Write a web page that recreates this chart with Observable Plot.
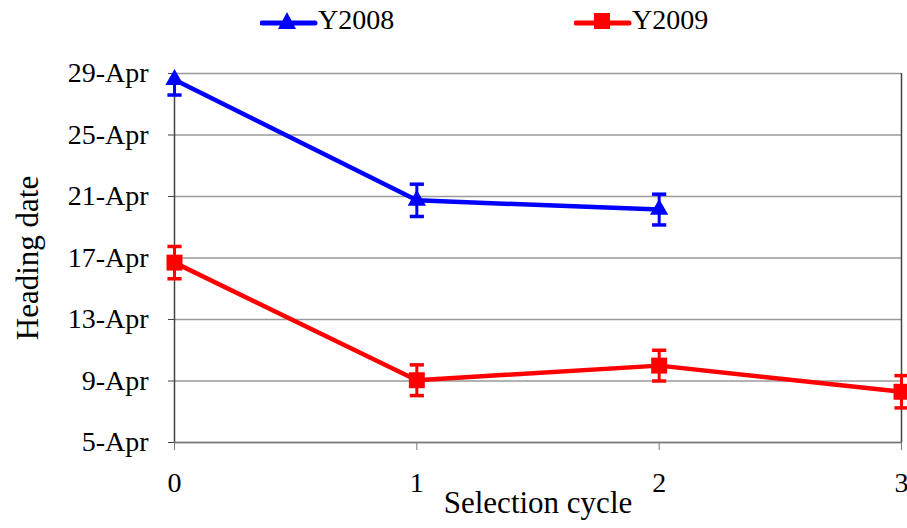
<!DOCTYPE html>
<html><head><meta charset="utf-8">
<script src="https://cdn.jsdelivr.net/npm/d3@7"></script>
<script src="https://cdn.jsdelivr.net/npm/@observablehq/plot@0.6"></script>
<style>
body{margin:0;background:#fff;font-family:"Liberation Serif",serif;}
#wrap{position:relative;width:907px;height:528px;overflow:hidden;}
#legend{position:relative;height:40px;width:907px;}
#legend .item{position:absolute;top:0;height:40px;display:flex;align-items:center;font-family:"Liberation Serif",serif;font-size:28px;color:#000;}
#chart svg{display:block;}
</style></head><body>
<div id="wrap"><div id="legend"></div><div id="chart"></div></div>
<script>
// ---- data ----
const series = ["Y2008", "Y2009"];
const colors = ["#0000ff", "#ff0000"];
const cycles2008 = [0, 1, 2];
const mean2008 = [28.6, 20.75, 20.15];
const err2008 = [1.0, 1.05, 1.0];
const cycles2009 = [0, 1, 2, 3];
const mean2009 = [16.7, 9.05, 10.0, 8.3];
const err2009 = [1.05, 1.0, 1.0, 1.05];
const yTicks = [5, 9, 13, 17, 21, 25, 29];
const yTickLabels = ["5-Apr", "9-Apr", "13-Apr", "17-Apr", "21-Apr", "25-Apr", "29-Apr"];
const xTicks = [0, 1, 2, 3];
const yDomain = [5, 29];

const rows = [
  ...cycles2008.map((c, i) => ({series: "Y2008", cycle: c, mean: mean2008[i], err: err2008[i]})),
  ...cycles2009.map((c, i) => ({series: "Y2009", cycle: c, mean: mean2009[i], err: err2009[i]}))
];
// error bars are cut at the axis limits, as in the original chart
const caps = rows.flatMap(d => [{...d, v: d.mean + d.err}, {...d, v: d.mean - d.err}])
  .filter(d => d.v >= yDomain[0] && d.v <= yDomain[1]);
const capSymbol = {draw(ctx, size) { const w = Math.sqrt(size); ctx.moveTo(-w / 2, 0); ctx.lineTo(w / 2, 0); }};
const serif = "'Liberation Serif', serif";

const chart = Plot.plot({
  width: 907,
  height: 488,
  marginTop: 33,
  marginBottom: 86,
  marginLeft: 174,
  marginRight: 6,
  style: {fontFamily: serif, fontSize: "28px", color: "#000", background: "#fff", overflow: "visible"},
  x: {domain: [0, 3]},
  y: {domain: yDomain},
  color: {domain: series, range: colors},
  marks: [
    Plot.gridY(yTicks, {stroke: "#9a9a9a", strokeOpacity: 1, strokeWidth: 1.5}),
    Plot.ruleX([0], {stroke: "#444", strokeWidth: 1.5}),
    Plot.ruleX([3], {stroke: "#444", strokeWidth: 1.5}),
    Plot.ruleY([5], {stroke: "#777", strokeWidth: 1.5}),
    Plot.axisY({ticks: yTicks, tickFormat: d => yTickLabels[yTicks.indexOf(d)], tickSize: 6, tickPadding: 20, stroke: "#444", label: null}),
    Plot.axisX({ticks: xTicks, tickFormat: d => String(d), tickSize: 8, tickPadding: 22, stroke: "#777", label: null}),
    Plot.text(["Heading date"], {frameAnchor: "left", textAnchor: "middle", lineAnchor: "middle", rotate: -90, dx: -146, fontSize: 31, fill: "#000"}),
    Plot.text(["Selection cycle"], {frameAnchor: "bottom", dy: 70, fontSize: 31, fill: "#000"}),
    Plot.line(rows, {x: "cycle", y: "mean", z: "series", stroke: "series", strokeWidth: 4.5}),
    Plot.ruleX(rows, {x: "cycle", y1: d => Math.max(yDomain[0], d.mean - d.err), y2: d => Math.min(yDomain[1], d.mean + d.err), stroke: "series", strokeWidth: 3}),
    Plot.dot(caps, {x: "cycle", y: "v", stroke: "series", symbol: capSymbol, r: 8, strokeWidth: 3.5, fill: "none"}),
    Plot.dot(rows.filter(d => d.series === "Y2008"), {x: "cycle", y: "mean", fill: "series", symbol: "triangle", r: 6.8, stroke: "none"}),
    Plot.dot(rows.filter(d => d.series === "Y2009"), {x: "cycle", y: "mean", fill: "series", symbol: "square", r: 9, stroke: "none"})
  ]
});
document.getElementById("chart").appendChild(chart);

// legend
const legend = document.getElementById("legend");
const legendX = [260, 574];
series.forEach((s, i) => {
  const item = document.createElement("div");
  item.className = "item";
  item.style.left = legendX[i] + "px";
  const sym = i === 0
    ? `<path d="M27,8 L36,25 L18,25 Z" fill="${colors[i]}"/>`
    : `<rect x="20" y="9" width="16" height="16" fill="${colors[i]}"/>`;
  item.innerHTML = `<svg width="58" height="32" style="display:block"><line x1="2" y1="19" x2="55" y2="19" stroke="${colors[i]}" stroke-width="5" stroke-linecap="round"/>${sym}</svg><span style="font-family:${serif};line-height:1">${s}</span>`;
  legend.appendChild(item);
});
</script>
</body></html>
